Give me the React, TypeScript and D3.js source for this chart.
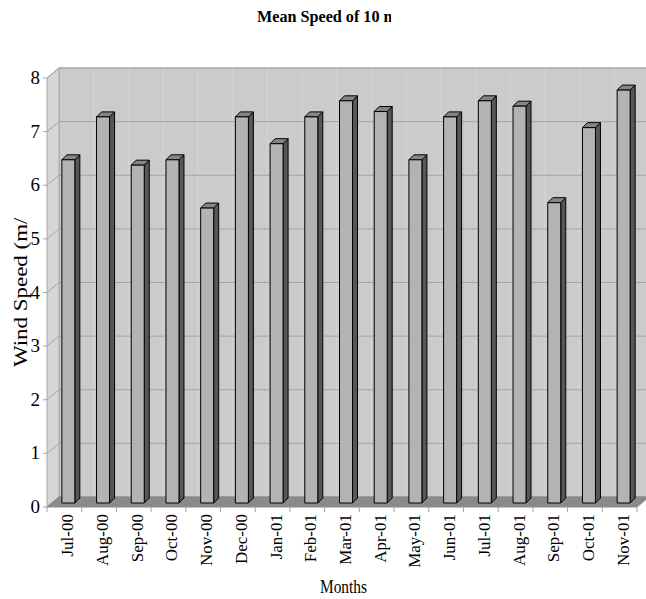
import React from "react";
import * as d3 from "d3";

const months = ["Jul-00","Aug-00","Sep-00","Oct-00","Nov-00","Dec-00","Jan-01","Feb-01","Mar-01","Apr-01","May-01","Jun-01","Jul-01","Aug-01","Sep-01","Oct-01","Nov-01"];
const speeds = [6.4, 7.2, 6.3, 6.4, 5.5, 7.2, 6.7, 7.2, 7.5, 7.3, 6.4, 7.2, 7.5, 7.4, 5.6, 7.0, 7.7];
const yTicks = [0, 1, 2, 3, 4, 5, 6, 7, 8];

const W = 646, H = 599;
const left = 47, right = 637, bottom = 507, top = 78;
const DX = 12, DY = -10; // depth of plot
const BX = 4, BY = -4; // bar depth offset
const BD = 5; // bar depth
const BW = 13; // bar width

export default function App() {
  const x = d3.scaleBand<string>().domain(months).range([left, right]);
  const y = d3.scaleLinear().domain([0, 8]).range([bottom, top]);
  const font = "'Liberation Serif', 'DejaVu Serif', serif";
  const pts = (a: number[][]) => a.map((p) => p.join(",")).join(" ");
  const y0 = y(0), yMax = y(8);

  return (
    <svg width={W} height={H} style={{ position: "absolute", left: 0, top: 0, background: "#fff" }}>
      <defs>
        <clipPath id="titleClip"><rect x={0} y={0} width={391} height={40} /></clipPath>
        <clipPath id="ylabClip"><rect x={0} y={218} width={40} height={200} /></clipPath>
        <clipPath id="all"><rect x={0} y={0} width={W} height={H} /></clipPath>
      </defs>
      <g clipPath="url(#all)">
        {/* back wall */}
        <polygon points={pts([[left + DX, y0 + DY], [left + DX, yMax + DY], [right + DX, yMax + DY], [right + DX, y0 + DY]])} fill="#cbcbcb" stroke="#a8a8a8" />
        {/* left wall */}
        <polygon points={pts([[left, y0], [left, yMax], [left + DX, yMax + DY], [left + DX, y0 + DY]])} fill="#d6d6d6" stroke="#a8a8a8" />
        {/* faint vertical lines on back wall */}
        {months.slice(1).map((m) => (
          <line key={"v" + m} x1={(x(m) as number) + DX} x2={(x(m) as number) + DX} y1={yMax + DY} y2={y0 + DY} stroke="#d2d2d2" strokeWidth={1.5} />
        ))}
        {/* gridlines */}
        {yTicks.map((t) => (
          <g key={"g" + t}>
            <line x1={left + DX} x2={right + DX} y1={y(t) + DY} y2={y(t) + DY} stroke="#a4a4a4" />
            <polyline points={pts([[left - 4, y(t)], [left, y(t)], [left + DX, y(t) + DY]])} fill="none" stroke="#a4a4a4" />
          </g>
        ))}
        {/* floor */}
        <polygon points={pts([[left, y0], [right, y0], [right + DX, y0 + DY], [left + DX, y0 + DY]])} fill="#8a8a8a" stroke="#8a8a8a" />
        {/* category ticks */}
        {months.map((m) => (
          <line key={"t" + m} x1={(x(m) as number)} x2={(x(m) as number)} y1={y0} y2={y0 + 5} stroke="#a4a4a4" />
        ))}
        <line x1={right} x2={right} y1={y0} y2={y0 + 5} stroke="#a4a4a4" />
        {/* bars */}
        {months.map((m, i) => {
          const bx = (x(m) as number) + (x.bandwidth() - BW) / 2 + BX;
          const by0 = y(0) + BY;
          const by1 = y(speeds[i]) + BY;
          return (
            <g key={"b" + m} stroke="#000" strokeWidth={1} strokeLinejoin="round">
              <polygon points={pts([[bx + BW, by0], [bx + BW, by1], [bx + BW + BD, by1 - BD], [bx + BW + BD, by0 - BD]])} fill="#575757" />
              <polygon points={pts([[bx, by1], [bx + BD, by1 - BD], [bx + BW + BD, by1 - BD], [bx + BW, by1]])} fill="#858585" />
              <rect x={bx} y={by1} width={BW} height={by0 - by1} fill="#b3b3b3" />
            </g>
          );
        })}
        {/* y tick labels */}
        {yTicks.map((t) => (
          <text key={"yl" + t} x={40} y={y(t) + 6} textAnchor="end" fontFamily={font} fontSize={19} fill="#000">{t}</text>
        ))}
        {/* x labels */}
        {months.map((m) => {
          const cx = (x(m) as number) + x.bandwidth() / 2 + 3;
          return (
            <text key={"xl" + m} transform={`translate(${cx + 6},514) rotate(-90)`} textAnchor="end" fontFamily={font} fontSize={17} fill="#000">{m}</text>
          );
        })}
        {/* title */}
        <g clipPath="url(#titleClip)">
          <text x={257} y={22} fontFamily={font} fontSize={17} fontWeight="bold" textLength={140} lengthAdjust="spacingAndGlyphs" fill="#000">Mean Speed of 10 m</text>
        </g>
        {/* y axis label */}
        <g clipPath="url(#ylabClip)">
          <text transform="translate(27,367) rotate(-90)" fontFamily={font} fontSize={19} textLength={166} lengthAdjust="spacingAndGlyphs" fill="#000">Wind Speed (m/s)</text>
        </g>
        {/* x axis label */}
        <text x={320} y={593} fontFamily={font} fontSize={18} textLength={47} lengthAdjust="spacingAndGlyphs" fill="#000">Months</text>
      </g>
    </svg>
  );
}
